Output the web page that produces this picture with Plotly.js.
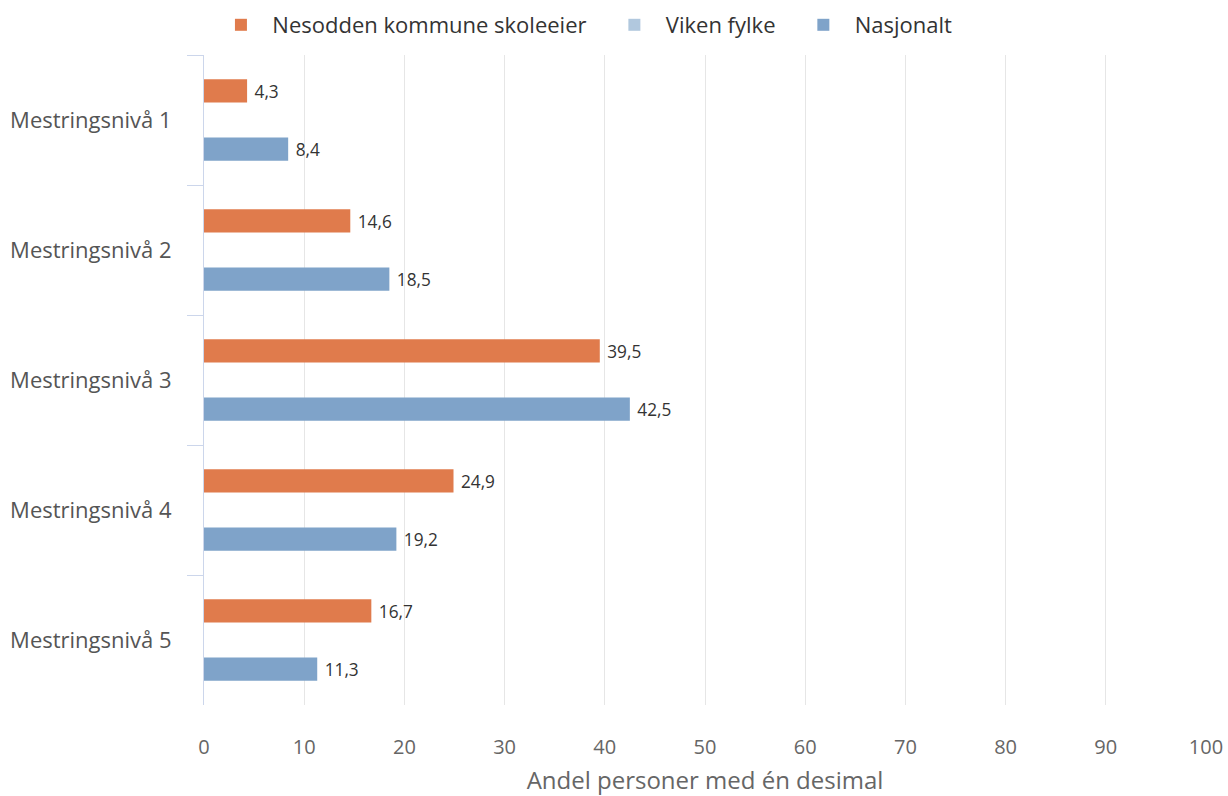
<!DOCTYPE html>
<html><head><meta charset="utf-8">
<script src="https://cdn.plot.ly/plotly-3.0.1.min.js"></script>
<style>body{margin:0;background:#fff}#c{width:1228px;height:796px}</style>
</head><body><div id="c"></div>
<script>
const categories = ["Mestringsnivå 1","Mestringsnivå 2","Mestringsnivå 3","Mestringsnivå 4","Mestringsnivå 5"];
const seriesNames = ["Nesodden kommune skoleeier","Viken fylke","Nasjonalt"];
const nesodden = [4.3, 14.6, 39.5, 24.9, 16.7];
const viken = [null, null, null, null, null];
const nasjonalt = [8.4, 18.5, 42.5, 19.2, 11.3];
const xTicks = [0,10,20,30,40,50,60,70,80,90,100];

const colors = ["#e07b4c", "#b1c8de", "#7fa3c9"];
const font = "'Open Sans', 'DejaVu Sans', sans-serif";
const vals = [nesodden, viken, nasjonalt];
const nb = '\u00a0';
const traces = vals.map((v,i)=>({
  type:'bar', orientation:'h',
  name: nb + nb + seriesNames[i] + (i < vals.length - 1 ? nb.repeat(4) : ''),
  y: categories, x: v,
  marker:{color: colors[i]},
  text: v.map(d=> d==null ? '' : nb + d.toFixed(1).replace('.',',')),
  textposition:'outside', cliponaxis:false,
  textfont:{size:21.5, color:'#333', family:font},
  hoverinfo:'x+name'
}));
const layout = {
  width:1228, height:796,
  margin:{l:204, r:22, t:55, b:91},
  barmode:'group', bargap:0.33, bargroupgap:0.2,
  paper_bgcolor:'#fff', plot_bgcolor:'#fff',
  font:{family:font, color:'#666', size:16},
  showlegend:true,
  legend:{orientation:'h', xref:'container', x:0.48, xanchor:'center', yref:'container', y:1 - 25/796, yanchor:'middle',
    font:{size:22, color:'#333', family:font}, traceorder:'normal'},
  xaxis:{range:[0,100], tickvals:xTicks, ticktext:xTicks.map(String), showgrid:true, gridcolor:'#e6e6e6', gridwidth:1,
    zeroline:false, showline:false, ticks:'', ticklabelstandoff:28,
    tickfont:{size:20, color:'#666', family:font},
    title:{text:'Andel personer med én desimal', font:{size:24, color:'#666', family:font}, standoff:14}},
  yaxis:{autorange:'reversed', type:'category', showline:true, linecolor:'#ccd6eb', linewidth:1,
    ticks:'outside', tickson:'boundaries', ticklen:16, tickcolor:'#ccd6eb', showgrid:false,
    tickfont:{size:22, color:'#555', family:font}, ticklabelstandoff:27}
};
Plotly.newPlot('c', traces, layout, {displayModeBar:false, staticPlot:true});
</script></body></html>
